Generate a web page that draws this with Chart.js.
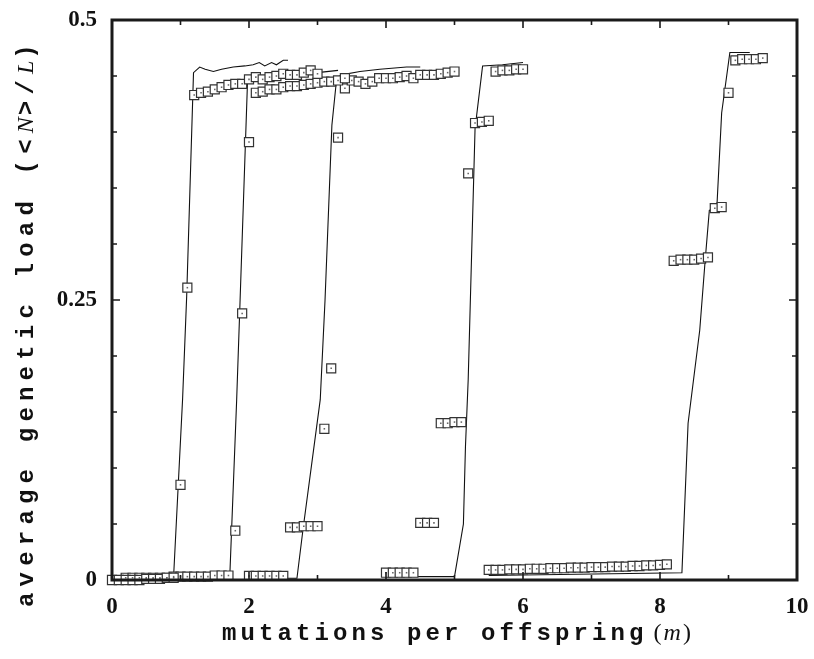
<!DOCTYPE html>
<html>
<head>
<meta charset="utf-8">
<script src="https://cdn.jsdelivr.net/npm/chart.js@4.4.1/dist/chart.umd.min.js"></script>
<style>
  html, body { margin: 0; padding: 0; background: #fff; }
</style>
</head>
<body>
<canvas id="loadChart" width="814" height="659"></canvas>
<script>
// tick labels
const xTickValues = [0, 2, 4, 6, 8, 10];
const xTickLabels = ['0', '2', '4', '6', '8', '10'];
const yTickValues = [0, 0.25, 0.5];
const yTickLabels = ['0', '0.25', '0.5'];

// simulation points (squares)
const simX1 = [0, 0.1, 0.2, 0.3, 0.4, 0.5, 0.6, 0.7, 0.8, 0.9, 1.0, 1.1, 1.2, 1.3, 1.4, 1.5, 1.6, 1.7, 1.8, 1.9, 2.0, 2.1, 2.2, 2.3, 2.4, 2.5, 2.6, 2.7, 2.8, 2.9, 3.0];
const simY1 = [0, 0, 0, 0, 0, 0.001, 0.001, 0.001, 0.002, 0.002, 0.085, 0.261, 0.433, 0.435, 0.436, 0.438, 0.440, 0.442, 0.443, 0.443, 0.447, 0.449, 0.447, 0.449, 0.450, 0.452, 0.451, 0.451, 0.453, 0.455, 0.452];

const simX2 = [0.2, 0.3, 0.4, 0.5, 0.6, 0.7, 0.8, 0.9, 1.0, 1.1, 1.2, 1.3, 1.4, 1.5, 1.6, 1.7, 1.8, 1.9, 2.0, 2.1, 2.2, 2.3, 2.4, 2.5, 2.6, 2.7, 2.8, 2.9, 3.0, 3.1, 3.2, 3.3, 3.4];
const simY2 = [0.002, 0.002, 0.002, 0.002, 0.002, 0.002, 0.002, 0.003, 0.003, 0.003, 0.003, 0.003, 0.003, 0.004, 0.004, 0.004, 0.044, 0.238, 0.391, 0.435, 0.436, 0.438, 0.438, 0.440, 0.441, 0.441, 0.442, 0.443, 0.444, 0.445, 0.445, 0.446, 0.448];

const simX3 = [2.0, 2.1, 2.2, 2.3, 2.4, 2.5, 2.6, 2.7, 2.8, 2.9, 3.0, 3.1, 3.2, 3.3, 3.4, 3.5, 3.6, 3.7, 3.8, 3.9, 4.0, 4.1, 4.2, 4.3, 4.4, 4.5, 4.6, 4.7, 4.8, 4.9, 5.0];
const simY3 = [0.0036, 0.0036, 0.0036, 0.0036, 0.0036, 0.0036, 0.047, 0.047, 0.048, 0.048, 0.048, 0.135, 0.189, 0.395, 0.439, 0.446, 0.445, 0.443, 0.445, 0.448, 0.448, 0.448, 0.449, 0.450, 0.448, 0.451, 0.451, 0.451, 0.452, 0.453, 0.454];

const simX4 = [4.0, 4.1, 4.2, 4.3, 4.4, 4.5, 4.6, 4.7, 4.8, 4.9, 5.0, 5.1, 5.2, 5.3, 5.4, 5.5, 5.6, 5.7, 5.8, 5.9, 6.0];
const simY4 = [0.0065, 0.0065, 0.0065, 0.0065, 0.0065, 0.051, 0.051, 0.051, 0.140, 0.140, 0.141, 0.141, 0.363, 0.408, 0.409, 0.410, 0.454, 0.455, 0.455, 0.456, 0.456];

const simX5 = [5.5, 5.6, 5.7, 5.8, 5.9, 6.0, 6.1, 6.2, 6.3, 6.4, 6.5, 6.6, 6.7, 6.8, 6.9, 7.0, 7.1, 7.2, 7.3, 7.4, 7.5, 7.6, 7.7, 7.8, 7.9, 8.0, 8.1, 8.2, 8.3, 8.4, 8.5, 8.6, 8.7, 8.8, 8.9, 9.0, 9.1, 9.2, 9.3, 9.4, 9.5];
const simY5 = [0.009, 0.009, 0.009, 0.0095, 0.0095, 0.0095, 0.010, 0.010, 0.010, 0.0105, 0.0105, 0.0105, 0.011, 0.011, 0.011, 0.0115, 0.0115, 0.0115, 0.012, 0.012, 0.012, 0.0125, 0.0125, 0.013, 0.013, 0.0135, 0.014, 0.285, 0.286, 0.286, 0.286, 0.287, 0.288, 0.332, 0.333, 0.435, 0.464, 0.465, 0.465, 0.465, 0.466];

// model curves (lines)
const fitX1 = [0, 0.9, 1.03, 1.09, 1.19, 1.28, 1.36, 1.48, 1.60, 1.77, 1.94, 2.06, 2.15, 2.23, 2.33, 2.40, 2.50, 2.57];
const fitY1 = [0, 0.004, 0.161, 0.253, 0.453, 0.458, 0.456, 0.454, 0.456, 0.458, 0.459, 0.460, 0.462, 0.459, 0.462, 0.460, 0.464, 0.464];

const fitX2 = [0.2, 1.72, 1.82, 1.87, 1.98, 2.3, 2.7, 3.0, 3.3];
const fitY2 = [0.002, 0.004, 0.161, 0.25, 0.448, 0.450, 0.452, 0.453, 0.455];

const fitX3 = [2.0, 2.70, 2.79, 3.04, 3.11, 3.21, 3.28, 3.35, 3.62, 3.91, 4.30, 4.50];
const fitY3 = [0.0015, 0.0015, 0.046, 0.161, 0.25, 0.406, 0.448, 0.451, 0.454, 0.456, 0.458, 0.458];

const fitX4 = [4.0, 5.0, 5.13, 5.16, 5.20, 5.30, 5.41, 5.70, 6.0];
const fitY4 = [0.003, 0.003, 0.05, 0.119, 0.179, 0.403, 0.459, 0.460, 0.462];

const fitX5 = [5.5, 8.32, 8.41, 8.58, 8.66, 8.72, 8.83, 8.90, 9.02, 9.31];
const fitY5 = [0.004, 0.0065, 0.14, 0.223, 0.286, 0.330, 0.333, 0.417, 0.471, 0.471];

const sims = [[simX1, simY1], [simX2, simY2], [simX3, simY3], [simX4, simY4], [simX5, simY5]];
const fits = [[fitX1, fitY1], [fitX2, fitY2], [fitX3, fitY3], [fitX4, fitY4], [fitX5, fitY5]];

const toPoints = (xs, ys) => xs.map((x, i) => ({ x: x, y: ys[i] }));

const datasets = [];
fits.forEach(([xs, ys]) => {
  datasets.push({
    data: toPoints(xs, ys),
    showLine: true,
    pointRadius: 0,
    borderColor: '#111',
    borderWidth: 1.1,
    tension: 0,
    order: 2,
  });
});
sims.forEach(([xs, ys]) => {
  // outer square
  datasets.push({
    data: toPoints(xs, ys),
    showLine: false,
    pointStyle: 'rect',
    pointRadius: 6.4,
    borderColor: '#333',
    borderWidth: 1.2,
    backgroundColor: '#fff',
    clip: false,
    order: 1,
  });
  // little dot inside each square
  datasets.push({
    data: toPoints(xs, ys),
    showLine: false,
    pointStyle: 'rect',
    pointRadius: 1.1,
    borderWidth: 0,
    backgroundColor: '#666',
    clip: false,
    order: 0,
  });
});

function pickLabel(v, values, labels) {
  const i = values.findIndex(t => Math.abs(t - v) < 1e-6);
  return i >= 0 ? labels[i] : '';
}

const monoFont = 'bold 24px "Liberation Mono"';
const serifFont = '24px "Liberation Serif"';
const italicFont = 'italic 24px "Liberation Serif"';

// draws a run of text pieces, mono chars spaced out like the original
function drawPieces(ctx, pieces, x0, y0, step) {
  let x = x0;
  pieces.forEach(([text, kind]) => {
    if (kind === 'mono') {
      ctx.font = monoFont;
      for (const ch of text) {
        ctx.fillText(ch, x, y0);
        x += step;
      }
    } else {
      ctx.font = kind === 'ital' ? italicFont : serifFont;
      ctx.fillText(text, x, y0);
      x += ctx.measureText(text).width + 2;
    }
  });
  return x - x0;
}

function piecesWidth(ctx, pieces, step) {
  let w = 0;
  pieces.forEach(([text, kind]) => {
    if (kind === 'mono') { w += text.length * step; }
    else {
      ctx.font = kind === 'ital' ? italicFont : serifFont;
      w += ctx.measureText(text).width + 2;
    }
  });
  return w;
}

const xTitle = [['mutations per offspring', 'mono'], [' (', 'serif'], ['m', 'ital'], [')', 'serif']];
const yTitle = [['average genetic load (<', 'mono'], ['N', 'ital'], ['>/', 'mono'], ['L', 'ital'], [')', 'mono']];

const framePlugin = {
  id: 'frame',
  afterDraw(chart) {
    const { ctx, chartArea: a, scales } = chart;
    ctx.save();
    ctx.strokeStyle = '#1a1a1a';
    ctx.lineWidth = 1.6;
    ctx.beginPath();
    scales.x.ticks.forEach((t, i) => {
      const px = scales.x.getPixelForTick(i);
      const len = Math.abs(t.value % 2) < 1e-6 ? 8 : 5;
      ctx.moveTo(px, a.bottom); ctx.lineTo(px, a.bottom - len);
      ctx.moveTo(px, a.top); ctx.lineTo(px, a.top + len);
    });
    scales.y.ticks.forEach((t, i) => {
      const py = scales.y.getPixelForTick(i);
      const q = t.value / 0.25;
      const len = Math.abs(q - Math.round(q)) < 1e-6 ? 8 : 5;
      ctx.moveTo(a.left, py); ctx.lineTo(a.left + len, py);
      ctx.moveTo(a.right, py); ctx.lineTo(a.right - len, py);
    });
    ctx.stroke();
    ctx.lineWidth = 3;
    ctx.strokeRect(a.left, a.top, a.right - a.left, a.bottom - a.top);

    // axis titles
    ctx.fillStyle = '#111';
    ctx.textBaseline = 'alphabetic';
    ctx.textAlign = 'left';
    const wx = piecesWidth(ctx, xTitle, 18.5);
    drawPieces(ctx, xTitle, (a.left + a.right) / 2 - wx / 2 + 3, 640, 18.5);

    ctx.translate(33, 607);
    ctx.rotate(-Math.PI / 2);
    drawPieces(ctx, yTitle, 0, 0, 20.6);
    ctx.restore();
  }
};

new Chart(document.getElementById('loadChart').getContext('2d'), {
  type: 'scatter',
  data: { datasets: datasets },
  plugins: [framePlugin],
  options: {
    responsive: false,
    animation: false,
    layout: { padding: { top: 20, right: 17, left: 0, bottom: 0 } },
    plugins: {
      legend: { display: false },
      tooltip: { enabled: false },
    },
    scales: {
      x: {
        type: 'linear',
        min: 0,
        max: 10,
        grid: { display: false, drawTicks: false },
        border: { display: false },
        ticks: {
          stepSize: 1,
          autoSkip: false,
          maxRotation: 0,
          padding: 13,
          color: '#111',
          font: { family: 'Liberation Serif', weight: 'bold', size: 23 },
          callback: v => pickLabel(v, xTickValues, xTickLabels),
        },
        afterFit: s => { s.height = 79; s.paddingLeft = 0; s.paddingRight = 0; },
      },
      y: {
        type: 'linear',
        min: 0,
        max: 0.5,
        grid: { display: false, drawTicks: false },
        border: { display: false },
        ticks: {
          stepSize: 0.05,
          autoSkip: false,
          padding: 15,
          color: '#111',
          font: { family: 'Liberation Serif', weight: 'bold', size: 23 },
          callback: v => pickLabel(v, yTickValues, yTickLabels),
        },
        afterFit: s => { s.width = 112; s.paddingTop = 0; s.paddingBottom = 0; },
      },
    },
  },
});
</script>
</body>
</html>
